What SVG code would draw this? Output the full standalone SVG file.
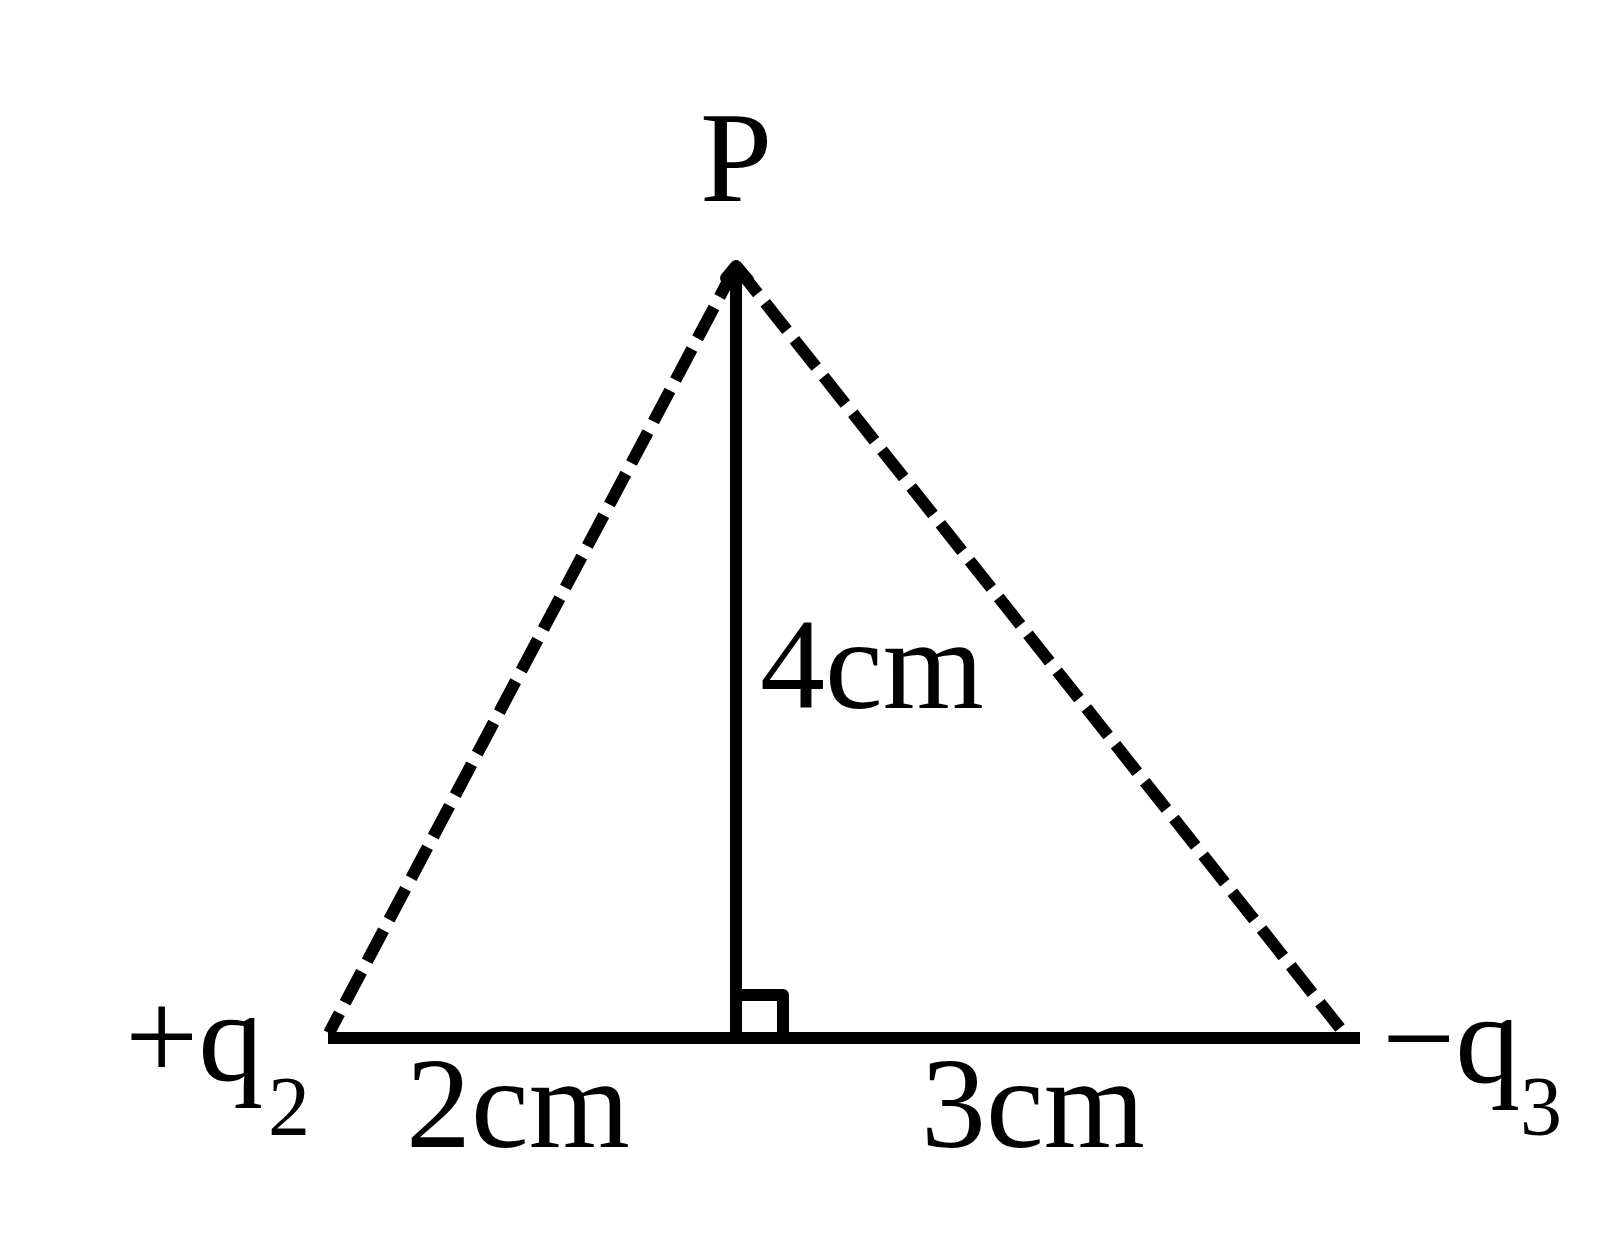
<svg xmlns="http://www.w3.org/2000/svg" width="1600" height="1237" viewBox="0 0 1600 1237">
<style>
.lbl{font-family:"Liberation Serif","Times New Roman",serif;font-size:130px;fill:#000}
.sub{font-size:84px}
.solid{stroke:#000;stroke-width:12;fill:none}
.dash{stroke:#000;stroke-width:12;fill:none;stroke-dasharray:35 12}
</style>
<rect width="1600" height="1237" fill="#fff"/>
<g id="connectors">
<line class="solid" x1="736" y1="266" x2="736" y2="1038"/>
<line class="solid" x1="328" y1="1038" x2="1360" y2="1038"/>
<polyline class="solid" points="736,995 783,995 783,1038" stroke-linejoin="round"/>
<line class="dash" x1="736" y1="266" x2="329" y2="1033" stroke-linecap="butt"/>
<line class="dash" x1="736" y1="266" x2="1340" y2="1028"/>
<polyline class="solid" points="726,278 736,266 748,280" stroke-linejoin="round" stroke-linecap="round"/>
</g>
<g id="node-P"><text class="lbl" x="700" y="201">P</text></g>
<g id="node-q2"><text class="lbl" x="125" y="1080">+q<tspan class="sub" x="268" y="1135">2</tspan></text></g>
<g id="node-q3"><text class="lbl" x="1382" y="1082">−q<tspan class="sub" x="1520" y="1135">3</tspan></text></g>
<g id="label-4cm"><text class="lbl" x="760" y="708">4cm</text></g>
<g id="label-2cm"><text class="lbl" x="406" y="1147">2cm</text></g>
<g id="label-3cm"><text class="lbl" x="921" y="1147">3cm</text></g>
</svg>
